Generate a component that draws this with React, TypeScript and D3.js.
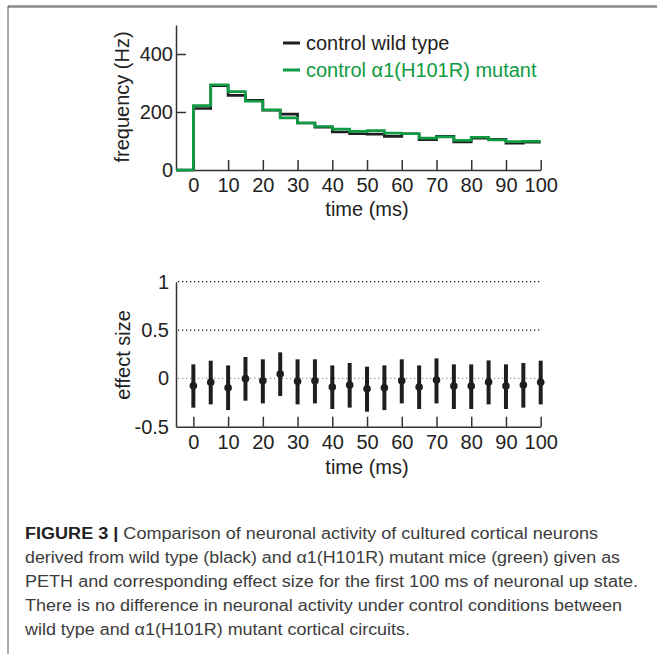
import React, { useEffect, useRef } from 'react';
import * as d3 from 'd3';

// PETH bins (ms), 5 ms wide
const binStarts = [0, 5, 10, 15, 20, 25, 30, 35, 40, 45, 50, 55, 60, 65, 70, 75, 80, 85, 90, 95];
const wildType = [212, 291, 257, 240, 206, 193, 162, 148, 131, 125, 124, 116, 125, 105, 116, 97, 110, 106, 93, 96];
const mutant = [222, 294, 270, 237, 207, 180, 162, 150, 141, 133, 136, 127, 125, 110, 114, 102, 113, 104, 98, 99];

// effect size
const effTimes = [0, 5, 10, 15, 20, 25, 30, 35, 40, 45, 50, 55, 60, 65, 70, 75, 80, 85, 90, 95, 100];
const effMean = [-0.076, -0.041, -0.097, -0.003, -0.024, 0.045, -0.031, -0.024, -0.09, -0.069, -0.107, -0.097, -0.024, -0.09, -0.017, -0.079, -0.079, -0.038, -0.079, -0.069, -0.041];
const effHigh = [0.145, 0.183, 0.134, 0.221, 0.197, 0.269, 0.197, 0.197, 0.134, 0.159, 0.121, 0.134, 0.197, 0.134, 0.207, 0.145, 0.145, 0.186, 0.145, 0.159, 0.183];
const effLow = [-0.303, -0.269, -0.328, -0.231, -0.259, -0.183, -0.269, -0.259, -0.317, -0.303, -0.345, -0.328, -0.259, -0.317, -0.259, -0.317, -0.317, -0.269, -0.317, -0.303, -0.269];

const xTicks = [0, 10, 20, 30, 40, 50, 60, 70, 80, 90, 100];
const freqTicks = [0, 200, 400];
const effTicks = [-0.5, 0, 0.5, 1];

const captionLines = [
  'Comparison of neuronal activity of cultured cortical neurons',
  'derived from wild type (black) and \u03b11(H101R) mutant mice (green) given as',
  'PETH and corresponding effect size for the first 100 ms of neuronal up state.',
  'There is no difference in neuronal activity under control conditions between',
  'wild type and \u03b11(H101R) mutant cortical circuits.',
];
const captionWidths = [573, 595, 613, 597, 385];

const FONT = "'Liberation Sans', Arial, Helvetica, sans-serif";
const GREEN = '#0f9a44';
const BLACK = '#1e1e1e';

const App = () => {
  const ref = useRef(null);

  useEffect(() => {
    const svg = d3.select(ref.current);
    svg.selectAll('*').remove();

    // frame
    svg.append('line').attr('x1', 8).attr('x2', 657).attr('y1', 6.5).attr('y2', 6.5)
      .attr('stroke', '#888').attr('stroke-width', 2.5);
    svg.append('line').attr('x1', 8).attr('x2', 8).attr('y1', 6).attr('y2', 654)
      .attr('stroke', '#555').attr('stroke-width', 1);

    const x = d3.scaleLinear().domain([-5, 100]).range([176, 540.7]);

    const styleAxis = (g) => {
      g.select('.domain').attr('stroke', '#333').attr('stroke-width', 1.5);
      g.selectAll('.tick line').attr('stroke', '#333').attr('stroke-width', 1.5);
      g.selectAll('text').style('font-family', FONT).style('font-size', '20px').attr('fill', '#222');
    };

    // ---------- top panel: PETH ----------
    const yTop = d3.scaleLinear().domain([0, 500]).range([170, 25]);

    svg.append('g')
      .attr('transform', `translate(0,${yTop(0)})`)
      .call(d3.axisBottom(x).tickValues(xTicks).tickSizeInner(-10).tickSizeOuter(0).tickPadding(8))
      .call(styleAxis);

    svg.append('g')
      .attr('transform', `translate(${x(-5)},0)`)
      .call(d3.axisLeft(yTop).tickValues(freqTicks).tickSizeInner(-10).tickSizeOuter(0).tickPadding(3))
      .call(styleAxis);

    const stepLine = d3.line()
      .x((d) => x(d[0]))
      .y((d) => yTop(d[1]))
      .curve(d3.curveStepAfter);

    const toPoints = (vals) => {
      const pts = [[-5, 0]];
      binStarts.forEach((t, i) => pts.push([t, vals[i]]));
      pts.push([100, vals[vals.length - 1]]);
      return pts;
    };

    svg.append('path').attr('d', stepLine(toPoints(wildType)))
      .attr('fill', 'none').attr('stroke', BLACK).attr('stroke-width', 2.7);
    svg.append('path').attr('d', stepLine(toPoints(mutant)))
      .attr('fill', 'none').attr('stroke', GREEN).attr('stroke-width', 2.7);

    svg.append('text')
      .attr('transform', `translate(129,${97}) rotate(-90)`)
      .attr('text-anchor', 'middle')
      .style('font-family', FONT).style('font-size', '20px').attr('fill', '#222')
      .text('frequency (Hz)');

    svg.append('text')
      .attr('x', 367).attr('y', 216)
      .attr('text-anchor', 'middle')
      .style('font-family', FONT).style('font-size', '20px').attr('fill', '#222')
      .text('time (ms)');

    // legend
    const legend = [
      { label: 'control wild type', color: BLACK, y: 43 },
      { label: 'control \u03b11(H101R) mutant', color: GREEN, y: 70 },
    ];
    legend.forEach((l) => {
      svg.append('line').attr('x1', 283).attr('x2', 300).attr('y1', l.y).attr('y2', l.y)
        .attr('stroke', l.color).attr('stroke-width', 3);
      svg.append('text').attr('x', 306).attr('y', l.y + 6.5)
        .style('font-family', FONT).style('font-size', '20px').attr('fill', l.color)
        .text(l.label);
    });

    // ---------- bottom panel: effect size ----------
    const yBot = d3.scaleLinear().domain([-0.5, 1]).range([426.7, 281.7]);

    [1, 0.5].forEach((v) => {
      svg.append('line').attr('x1', x(-5) + 2).attr('x2', x(100)).attr('y1', yBot(v)).attr('y2', yBot(v))
        .attr('stroke', '#222').attr('stroke-width', 1.3).attr('stroke-dasharray', '1.3 2.7');
    });
    svg.append('line').attr('x1', x(-5) + 2).attr('x2', x(100)).attr('y1', yBot(0)).attr('y2', yBot(0))
      .attr('stroke', '#999').attr('stroke-width', 1.3).attr('stroke-dasharray', '1.3 2.7');

    svg.append('g')
      .attr('transform', `translate(0,${yBot(-0.5)})`)
      .call(d3.axisBottom(x).tickValues(xTicks).tickSizeInner(-10).tickSizeOuter(0).tickPadding(8))
      .call(styleAxis);

    svg.append('g')
      .attr('transform', `translate(${x(-5)},0)`)
      .call(d3.axisLeft(yBot).tickValues(effTicks).tickFormat((d) => String(d)).tickSize(0).tickPadding(7))
      .call(styleAxis);

    effTimes.forEach((t, i) => {
      svg.append('line').attr('x1', x(t)).attr('x2', x(t))
        .attr('y1', yBot(effLow[i])).attr('y2', yBot(effHigh[i]))
        .attr('stroke', BLACK).attr('stroke-width', 4);
      svg.append('circle').attr('cx', x(t)).attr('cy', yBot(effMean[i])).attr('r', 3.8)
        .attr('fill', BLACK);
    });

    svg.append('text')
      .attr('transform', `translate(130,${355}) rotate(-90)`)
      .attr('text-anchor', 'middle')
      .style('font-family', FONT).style('font-size', '20px').attr('fill', '#222')
      .text('effect size');

    svg.append('text')
      .attr('x', 367).attr('y', 474)
      .attr('text-anchor', 'middle')
      .style('font-family', FONT).style('font-size', '20px').attr('fill', '#222')
      .text('time (ms)');

    // ---------- caption ----------
    captionLines.forEach((line, i) => {
      const t = svg.append('text')
        .attr('x', 25).attr('y', 538.5 + i * 24.1)
        .attr('textLength', captionWidths[i]).attr('lengthAdjust', 'spacingAndGlyphs')
        .style('font-family', FONT).style('font-size', '16px').attr('fill', '#3c3c3c');
      if (i === 0) {
        t.append('tspan').attr('font-weight', 'bold').attr('fill', '#222').text('FIGURE 3 | ');
      }
      t.append('tspan').text(line);
    });
  }, []);

  return (
    <div style={{ position: 'absolute', left: 0, top: 0 }}>
      <svg ref={ref} width={657} height={654} style={{ display: 'block', background: '#fff' }} />
    </div>
  );
};

export default App;
